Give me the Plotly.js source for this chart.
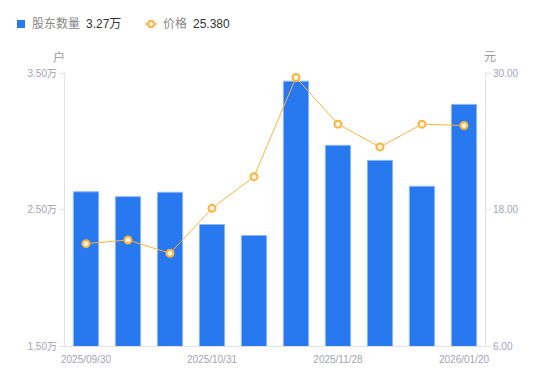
<!DOCTYPE html>
<html>
<head>
<meta charset="utf-8">
<script src="https://cdn.plot.ly/plotly-3.0.1.min.js"></script>
<style>html,body{margin:0;padding:0;background:#fff}#chart{width:550px;height:381px}</style>
</head>
<body>
<div id="chart"></div>
<script>
const dates = ["2025/09/30","2025/10/10","2025/10/20","2025/10/31","2025/11/10","2025/11/20","2025/11/28","2025/12/10","2025/12/31","2026/01/20"];
const holders = [2.63, 2.594, 2.626, 2.39, 2.31, 3.44, 2.97, 2.86, 2.67, 3.27];
const prices = [15.0, 15.32, 14.15, 18.1, 20.89, 29.6, 25.5, 23.5, 25.5, 25.38];
const xTicks = ["2025/09/30","2025/10/31","2025/11/28","2026/01/20"];
const leftTicks = [1.5, 2.5, 3.5];
const leftTickText = ["1.50万","2.50万","3.50万"];
const rightTicks = [6, 18, 30];
const rightTickText = ["6.00","18.00","30.00"];
const holderName = "股东数量";
const priceName = "价格";

const font = "'Liberation Sans', Arial, 'Noto Sans CJK SC', sans-serif";
const tickColor = "#a3a3b3";
const barColor = "#2878F0";
const lineColor = "#F9B33E";

// plot box in pixels (for placing legend/unit labels)
const L = 65, R = 485, T = 73, B = 346;
const px = x => (x - L) / (R - L);
const py = y => (B - y) / (B - T);

const traces = [
  {
    type: "bar", x: dates, y: holders, yaxis: "y", name: holderName,
    marker: {color: barColor, line: {color: "#8db6f7", width: 1}},
    hoverinfo: "skip"
  },
  {
    type: "scatter", mode: "lines+markers", x: dates, y: prices, yaxis: "y2", name: priceName,
    line: {color: lineColor, width: 1},
    marker: {symbol: "circle", size: 7, color: "#FFF3DC", line: {color: lineColor, width: 2}},
    hoverinfo: "skip", cliponaxis: false
  }
];

const lastHolder = holders[holders.length - 1].toFixed(2) + "万";
const lastPrice = prices[prices.length - 1].toFixed(3);

const ann = (text, x, y, color, size, anchor) => ({
  text, xref: "paper", yref: "paper", x: px(x), y: py(y), showarrow: false,
  xanchor: anchor || "left", yanchor: "middle", font: {size: size || 12, color}
});

const layout = {
  width: 550, height: 381,
  margin: {l: L, r: 550 - R, t: T, b: 381 - B},
  paper_bgcolor: "#fff", plot_bgcolor: "#fff",
  font: {family: font, size: 10, color: tickColor},
  bargap: 0.4,
  showlegend: false,
  xaxis: {
    type: "category", range: [-0.5, dates.length - 0.5], autorange: false,
    tickmode: "array", tickvals: xTicks, ticktext: xTicks,
    showline: true, linecolor: "#e3e3e3", linewidth: 1, showgrid: false,
    ticks: "", zeroline: false, tickfont: {size: 10, color: tickColor},
    ticklabelstandoff: 4, automargin: false
  },
  yaxis: {
    range: [1.5, 3.5], tickvals: leftTicks, ticktext: leftTickText,
    showline: true, linecolor: "#e3e3e3", showgrid: false, zeroline: false,
    ticks: "outside", ticklen: 5, tickcolor: "#e3e3e3",
    tickfont: {size: 10, color: tickColor}, automargin: false
  },
  yaxis2: {
    overlaying: "y", side: "right",
    range: [6, 30], tickvals: rightTicks, ticktext: rightTickText,
    showline: true, linecolor: "#e3e3e3", showgrid: false, zeroline: false,
    ticks: "outside", ticklen: 5, tickcolor: "#e3e3e3",
    tickfont: {size: 10, color: tickColor}, automargin: false
  },
  shapes: [
    {type: "rect", xref: "paper", yref: "paper", x0: px(17), x1: px(25), y0: py(20), y1: py(28),
     fillcolor: barColor, line: {width: 0}},
    {type: "line", xref: "paper", yref: "paper", x0: px(145), x1: px(157), y0: py(24), y1: py(24),
     line: {color: lineColor, width: 1.5}},
    {type: "circle", xref: "paper", yref: "paper", x0: px(148), x1: px(154), y0: py(21), y1: py(27),
     fillcolor: "#fff", line: {color: lineColor, width: 2}}
  ],
  annotations: [
    ann(holderName, 30, 24, "#888", 12),
    ann(lastHolder, 84, 24, "#333", 12),
    ann(priceName, 161, 24, "#888", 12),
    ann(lastPrice, 191, 24, "#333", 12),
    ann("户", 59, 57, "#999", 12, "center"),
    ann("元", 490, 57, "#999", 12, "center")
  ]
};

Plotly.newPlot("chart", traces, layout, {displayModeBar: false, staticPlot: true});
</script>
</body>
</html>
